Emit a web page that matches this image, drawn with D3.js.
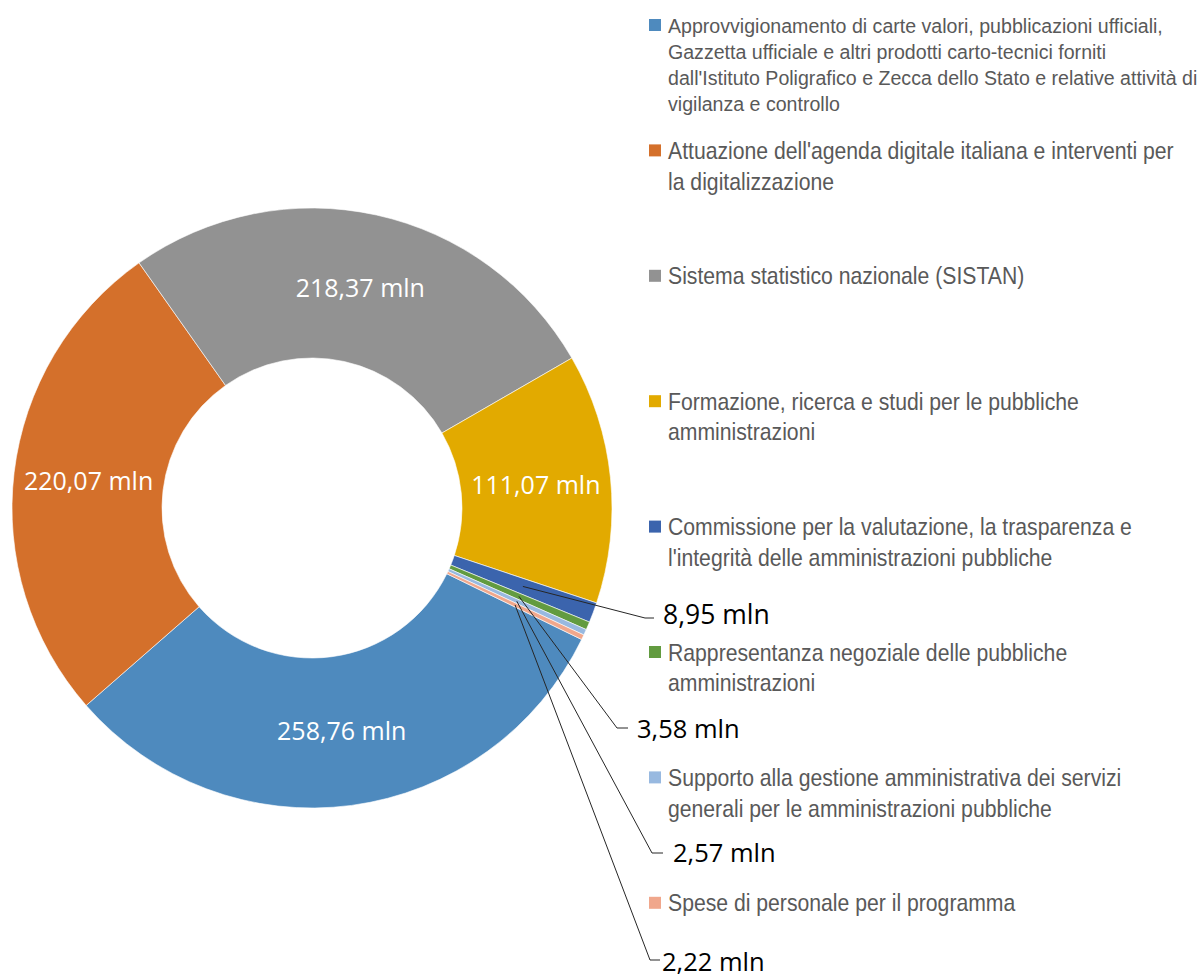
<!DOCTYPE html>
<html>
<head>
<meta charset="utf-8">
<script src="https://cdn.jsdelivr.net/npm/d3@7"></script>
<style>
  html, body { margin: 0; padding: 0; background: #fff; }
  svg { display: block; }
</style>
</head>
<body>
<svg id="chart" width="1199" height="977"></svg>
<script>
// Programme names (legend), wrapped the way they are printed
const legendLines = [
  ["Approvvigionamento di carte valori, pubblicazioni ufficiali,",
   "Gazzetta ufficiale e altri prodotti carto-tecnici forniti",
   "dall'Istituto Poligrafico e Zecca dello Stato e relative attività di",
   "vigilanza e controllo"],
  ["Attuazione dell'agenda digitale italiana e interventi per",
   "la digitalizzazione"],
  ["Sistema statistico nazionale (SISTAN)"],
  ["Formazione, ricerca e studi per le pubbliche",
   "amministrazioni"],
  ["Commissione per la valutazione, la trasparenza e",
   "l'integrità delle amministrazioni pubbliche"],
  ["Rappresentanza negoziale delle pubbliche",
   "amministrazioni"],
  ["Supporto alla gestione amministrativa dei servizi",
   "generali per le amministrazioni pubbliche"],
  ["Spese di personale per il programma"]
];
const categories = legendLines.map(l => l.join(" "));

// Allocations, millions of euro
const values = [258.76, 220.07, 218.37, 111.07, 8.95, 3.58, 2.57, 2.22];
const valueLabels = ["258,76 mln", "220,07 mln", "218,37 mln", "111,07 mln",
                     "8,95 mln", "3,58 mln", "2,57 mln", "2,22 mln"];

const colors = ["#4E8ABE", "#D4702B", "#929292", "#E2AA00",
                "#3B64AD", "#629B40", "#98B9E0", "#F0A78C"];

const svg = d3.select("#chart");

// Donut geometry
const cx = 312, cy = 508, outerR = 300, innerR = 150;
const startDeg = 116;

const pie = d3.pie()
  .sort(null)
  .value(d => d)
  .startAngle(startDeg * Math.PI / 180)
  .endAngle(startDeg * Math.PI / 180 + 2 * Math.PI);

const arcs = pie(values);
const arc = d3.arc().innerRadius(innerR).outerRadius(outerR);
const midArc = d3.arc().innerRadius(225).outerRadius(225);

const g = svg.append("g").attr("transform", `translate(${cx},${cy})`);

g.selectAll("path.slice")
  .data(arcs)
  .join("path")
  .attr("class", "slice")
  .attr("d", arc)
  .attr("fill", (d, i) => colors[i])
  .attr("stroke", "#fff")
  .attr("stroke-width", 0.6);

const labelFont = "'Open Sans', 'DejaVu Sans', sans-serif";

// Large slices: value printed inside the ring
const inside = arcs.filter(d => d.index < 4);
g.selectAll("text.inlabel")
  .data(inside)
  .join("text")
  .attr("class", "inlabel")
  .attr("x", d => midArc.centroid(d)[0])
  .attr("y", d => midArc.centroid(d)[1])
  .attr("dy", "0.36em")
  .attr("text-anchor", "middle")
  .attr("font-family", labelFont)
  .attr("font-size", 25)
  .attr("fill", "#fff")
  .text(d => valueLabels[d.index]);

// Thin slices: value set outside with a leader line (elbow point, page coords)
const callouts = [
  { i: 4, ex: 645, ey: 618, hx: 654, tx: 663, ty: 614, fs: 26.5 },
  { i: 5, ex: 617, ey: 728, hx: 628, tx: 637, ty: 729, fs: 25.5 },
  { i: 6, ex: 652, ey: 853, hx: 663, tx: 673, ty: 853, fs: 25.5 },
  { i: 7, ex: 650, ey: 960, hx: 660, tx: 662, ty: 962, fs: 25.5 }
];

const lead = svg.append("g");
callouts.forEach(c => {
  const p = midArc.centroid(arcs[c.i]);
  lead.append("polyline")
    .attr("points", `${cx + p[0]},${cy + p[1]} ${c.ex},${c.ey} ${c.hx},${c.ey}`)
    .attr("fill", "none")
    .attr("stroke", "#262626")
    .attr("stroke-width", 1);
  lead.append("text")
    .attr("x", c.tx)
    .attr("y", c.ty)
    .attr("dy", "0.36em")
    .attr("font-family", labelFont)
    .attr("font-size", c.fs)
    .attr("fill", "#000")
    .text(valueLabels[c.i]);
});

// Legend: a condensed sans, narrowed horizontally so the first line of an
// entry spans the given width
const legendFont = "'Liberation Sans', Arial, sans-serif";
const measureCtx = document.createElement("canvas").getContext("2d");
function textWidth(str, size) {
  measureCtx.font = `${size}px ${legendFont}`;
  return measureCtx.measureText(str).width;
}
const legendX = 649, textX = 668, legendTop = 25, legendStep = 125.4;
const firstStyle = { fs: 21, lh: 26, width: 495, ref: 0 };
const restStyle  = { fs: 24, lh: 30.5, width: 506, ref: 1 };
[firstStyle, restStyle].forEach(s => {
  s.sx = s.width / textWidth(legendLines[s.ref][0], s.fs);
});

const legend = svg.append("g");
legendLines.forEach((lines, i) => {
  const y0 = legendTop + i * legendStep;
  const st = i === 0 ? firstStyle : restStyle;
  legend.append("rect")
    .attr("x", legendX)
    .attr("y", y0 - 6)
    .attr("width", 12)
    .attr("height", 12)
    .attr("fill", colors[i]);
  const t = legend.append("text")
    .attr("transform", `translate(${textX},${y0}) scale(${st.sx},1)`)
    .attr("font-family", legendFont)
    .attr("font-size", st.fs)
    .attr("fill", "#595959");
  lines.forEach((ln, k) => {
    t.append("tspan")
      .attr("x", 0)
      .attr("y", k * st.lh)
      .attr("dy", "0.36em")
      .text(ln);
  });
});
</script>
</body>
</html>
